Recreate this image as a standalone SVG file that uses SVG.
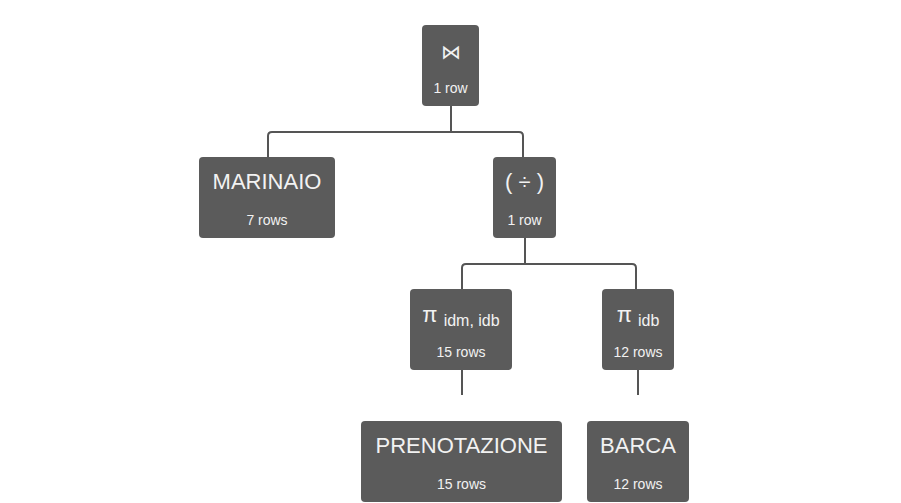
<svg xmlns="http://www.w3.org/2000/svg" width="901" height="503" viewBox="0 0 901 503">
<style>
.n{fill:#5b5b5b;}
.t{fill:#f2f2f2;font-family:"Liberation Sans",Arial,sans-serif;font-size:22px;text-anchor:middle;}
.s{fill:#f2f2f2;font-family:"Liberation Sans",Arial,sans-serif;font-size:14px;text-anchor:middle;}
.sub{font-size:16px;}
.c{fill:none;stroke:#555;stroke-width:2;}
</style>
<rect width="901" height="503" fill="#fff"/>
<g id="connectors">
<path class="c" d="M451,106 V132"/>
<path class="c" d="M268,157 V136 Q268,132 272,132 H519 Q523,132 523,136 V157"/>
<path class="c" d="M525,238 V264"/>
<path class="c" d="M462,289 V268 Q462,264 466,264 H632 Q636,264 636,268 V289"/>
<path class="c" d="M462,370 V395"/>
<path class="c" d="M638,370 V395"/>
</g>
<g id="join">
<rect class="n" x="422" y="25" width="57" height="81" rx="4"/>
<text class="t" x="450.5" y="59" style="font-size:20px">⋈</text>
<text class="s" x="450.5" y="93">1 row</text>
</g>
<g id="marinaio">
<rect class="n" x="199" y="157" width="136" height="81" rx="4"/>
<text class="t" x="267" y="189">MARINAIO</text>
<text class="s" x="267" y="225">7 rows</text>
</g>
<g id="division">
<rect class="n" x="493" y="157" width="63" height="81" rx="4"/>
<text class="t" x="524.5" y="189">( ÷ )</text>
<text class="s" x="524.5" y="225">1 row</text>
</g>
<g id="proj1">
<rect class="n" x="410" y="289" width="102" height="81" rx="4"/>
<text class="t" x="461" y="322">π <tspan class="sub" dy="4">idm, idb</tspan></text>
<text class="s" x="461" y="357">15 rows</text>
</g>
<g id="proj2">
<rect class="n" x="602" y="289" width="72" height="81" rx="4"/>
<text class="t" x="638" y="322">π <tspan class="sub" dy="4">idb</tspan></text>
<text class="s" x="638" y="357">12 rows</text>
</g>
<g id="prenotazione">
<rect class="n" x="361" y="421" width="201" height="81" rx="4"/>
<text class="t" x="461.5" y="453">PRENOTAZIONE</text>
<text class="s" x="461.5" y="489">15 rows</text>
</g>
<g id="barca">
<rect class="n" x="587" y="421" width="102" height="81" rx="4"/>
<text class="t" x="638" y="453">BARCA</text>
<text class="s" x="638" y="489">12 rows</text>
</g>
</svg>
